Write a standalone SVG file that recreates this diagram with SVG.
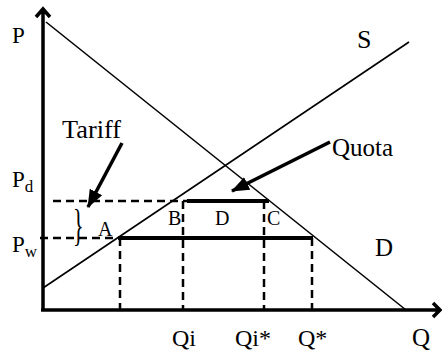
<svg xmlns="http://www.w3.org/2000/svg" width="442" height="351" viewBox="0 0 442 351">
<defs>
<style>
.ax{stroke:#000;stroke-width:3.5;fill:none}
.cv{stroke:#000;stroke-width:1.6;fill:none}
.ds{stroke:#000;stroke-width:2.5;fill:none;stroke-dasharray:8 5}
.th{stroke:#000;stroke-width:4;fill:none}
.ar{stroke:#000;stroke-width:3.5;fill:none}
</style>
<marker id="ah" markerUnits="userSpaceOnUse" markerWidth="20" markerHeight="16" refX="17" refY="7" orient="auto" viewBox="0 0 20 14">
<path d="M0,0 L18,7 L0,14 Z" fill="#000"/>
</marker>
</defs>
<g id="axes">
<path class="ax" d="M43,311 V9 M36,17 L43,9 L50,17"/>
<path class="ax" d="M41,310 H440 M433,303 L440,310 L433,317"/>
</g>
<g id="curves">
<line id="demand" class="cv" x1="46" y1="22" x2="406" y2="310"/>
<line id="supply" class="cv" x1="43" y1="288" x2="409" y2="42"/>
</g>
<g id="connectors">
<line class="ds" x1="53" y1="201" x2="187" y2="201"/>
<line class="ds" x1="40" y1="238" x2="118" y2="238"/>
<line class="ds" x1="120" y1="238" x2="120" y2="310"/>
<line class="ds" x1="183" y1="201" x2="183" y2="310"/>
<line class="ds" x1="264" y1="201" x2="264" y2="310"/>
<line class="ds" x1="312" y1="238" x2="312" y2="310"/>
<line class="th" x1="187" y1="201" x2="269" y2="201"/>
<line class="th" x1="118" y1="238" x2="313" y2="238"/>
<line class="ar" x1="122" y1="143" x2="88" y2="207" marker-end="url(#ah)"/>
<line class="ar" x1="330" y1="142" x2="232" y2="191" marker-end="url(#ah)"/>
</g>
<g id="labels" font-family="Liberation Serif" fill="#000">
<text x="12" y="43" font-size="23">P</text>
<text x="357" y="48" font-size="26">S</text>
<text x="62" y="138" font-size="25" textLength="59" lengthAdjust="spacingAndGlyphs">Tariff</text>
<text x="332" y="156" font-size="25">Quota</text>
<text x="12" y="187" font-size="23">P<tspan font-size="17" dy="5">d</tspan></text>
<text x="12" y="252" font-size="23">P<tspan font-size="17" dy="5">w</tspan></text>
<text transform="translate(73,240) scale(0.5,1)" font-size="44">}</text>
<text x="98" y="236" font-size="20">A</text>
<text x="168" y="225" font-size="20">B</text>
<text x="215" y="225" font-size="20">D</text>
<text x="267" y="225" font-size="20">C</text>
<text x="375" y="256" font-size="25">D</text>
<text x="172" y="346" font-size="24">Qi</text>
<text x="235" y="346" font-size="24">Qi*</text>
<text x="298" y="346" font-size="24">Q*</text>
<text x="412" y="346" font-size="25">Q</text>
</g>
</svg>
